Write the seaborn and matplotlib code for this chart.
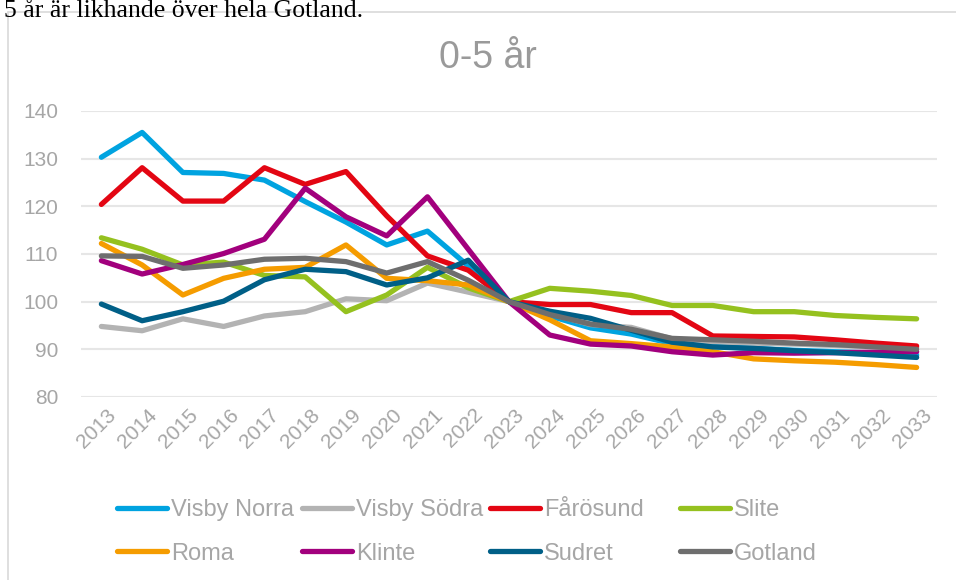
import matplotlib
matplotlib.use("Agg")
import matplotlib.pyplot as plt
import matplotlib.transforms as mtransforms
import numpy as np
import pandas as pd
import seaborn as sns
from matplotlib.lines import Line2D

years = list(range(2013, 2034))

visby_norra = [130.3, 135.5, 127.1, 126.9, 125.5, 121.0, 116.7, 111.9, 114.8, 107.5, 100.0,
               97.0, 94.5, 93.2, 91.2, 90.6, 90.2, 89.8, 89.5, 89.2, 88.8]
visby_sodra = [94.8, 93.9, 96.4, 94.8, 97.0, 97.9, 100.6, 100.2, 103.9, 102.0, 100.0,
               97.5, 95.2, 94.6, 92.2, 91.6, 91.3, 91.1, 90.8, 90.6, 90.4]
farosund = [120.4, 128.1, 121.1, 121.1, 128.1, 124.6, 127.3, 118.0, 109.6, 106.6, 100.0,
            99.4, 99.4, 97.7, 97.7, 92.8, 92.7, 92.6, 92.0, 91.3, 90.7]
slite = [113.4, 111.0, 107.7, 108.3, 105.5, 105.2, 97.9, 101.4, 107.2, 102.9, 100.0,
         102.8, 102.2, 101.3, 99.2, 99.2, 97.9, 97.9, 97.1, 96.7, 96.4]
roma = [112.2, 107.7, 101.4, 104.9, 106.8, 107.2, 111.9, 104.9, 104.4, 103.5, 100.0,
        96.2, 91.8, 91.2, 90.5, 89.5, 88.0, 87.6, 87.3, 86.8, 86.2]
klinte = [108.6, 105.8, 107.8, 110.1, 113.1, 123.8, 117.8, 113.8, 122.0, 111.0, 100.0,
          93.0, 91.1, 90.7, 89.5, 88.8, 89.3, 89.2, 89.3, 89.4, 89.5]
sudret = [99.5, 96.0, 97.9, 100.1, 104.6, 106.8, 106.3, 103.5, 105.0, 108.7, 100.0,
          98.0, 96.5, 94.0, 91.5, 90.5, 90.2, 89.7, 89.3, 88.8, 88.3]
gotland = [109.6, 109.5, 107.0, 107.7, 108.9, 109.1, 108.4, 106.0, 108.4, 104.5, 100.0,
           97.3, 95.3, 94.2, 92.3, 92.0, 91.7, 91.3, 91.0, 90.5, 90.0]

areas = ["Visby Norra", "Visby Södra", "Fårösund", "Slite",
         "Roma", "Klinte", "Sudret", "Gotland"]
series = [visby_norra, visby_sodra, farosund, slite, roma, klinte, sudret, gotland]
colors = ["#00A3E0", "#B3B3B3", "#E30613", "#95C11F",
          "#F59C00", "#A2007D", "#005F87", "#6E6E6E"]

df = pd.DataFrame({
    "år": years * len(areas),
    "index": [v for s in series for v in s],
    "område": [a for a in areas for _ in years],
})

sns.set_style("white")
plt.rcParams["font.family"] = ["Liberation Sans", "DejaVu Sans"]

grey_txt = "#A6A6A6"

fig = plt.figure(figsize=(9.56, 5.8), dpi=100)
W, H = 956, 580
ax = fig.add_axes([81 / W, 1 - 397 / H, (937 - 81) / W, (397 - 111) / H])

sns.lineplot(data=df, x="år", y="index", hue="område", hue_order=areas,
             palette=colors, linewidth=3.8, legend=False, ax=ax,
             solid_capstyle="round", solid_joinstyle="round")

ax.set_xlim(2012.5, 2033.5)
ax.set_ylim(80, 140)
ax.set_yticks(range(80, 141, 10))
ax.set_xticks(years)
ax.tick_params(axis="both", length=0, colors=grey_txt, labelsize=15)
ax.tick_params(axis="y", pad=16.5)
ax.set_xticklabels([str(y) for y in years], rotation=45, ha="right", va="center",
                   rotation_mode="anchor")
# shift the slanted year labels so they hang to the right of the tick like in Excel
offset = mtransforms.ScaledTranslation(12 / 100, -10 / 100, fig.dpi_scale_trans)
for lab in ax.xaxis.get_majorticklabels():
    lab.set_transform(lab.get_transform() + offset)
ax.set_xlabel("")
ax.set_ylabel("")
ax.grid(axis="y", color="#E6E6E6", linewidth=1.5)
ax.set_axisbelow(True)
for sp in ax.spines.values():
    sp.set_visible(False)

fig.text(488 / W, 1 - 58 / H, "0-5 år", ha="center", va="center",
         fontsize=27, color="#9A9A9A")

# legend: one small legend per column so the columns are evenly spaced
col_x = [117, 302, 490, 680]
for j in range(4):
    idx = [j, j + 4]
    hs = [Line2D([0], [0], color=colors[i], linewidth=3.8, solid_capstyle="round") for i in idx]
    fig.legend(hs, [areas[i] for i in idx], loc="center left",
               bbox_to_anchor=(col_x[j] / W, 1 - 532 / H), frameon=False,
               fontsize=17, labelcolor=grey_txt, handlelength=2.1, handletextpad=0.2,
               labelspacing=0.9, borderpad=0, borderaxespad=0)

# frame of the embedded chart and the clipped document text above it
fig.add_artist(Line2D([8 / W, 8 / W], [0, 1 - 12 / H], transform=fig.transFigure,
                      color="#D9D9D9", linewidth=1.2))
fig.add_artist(Line2D([8 / W, 1], [1 - 12 / H, 1 - 12 / H], transform=fig.transFigure,
                      color="#D9D9D9", linewidth=1.2))
fig.text(4 / W, 1 - 17 / H, "5 år är likhande över hela Gotland.", ha="left",
         va="baseline", fontsize=18.5, color="black",
         family=["Liberation Serif", "DejaVu Serif"])

fig.savefig("out.png", dpi=100)
